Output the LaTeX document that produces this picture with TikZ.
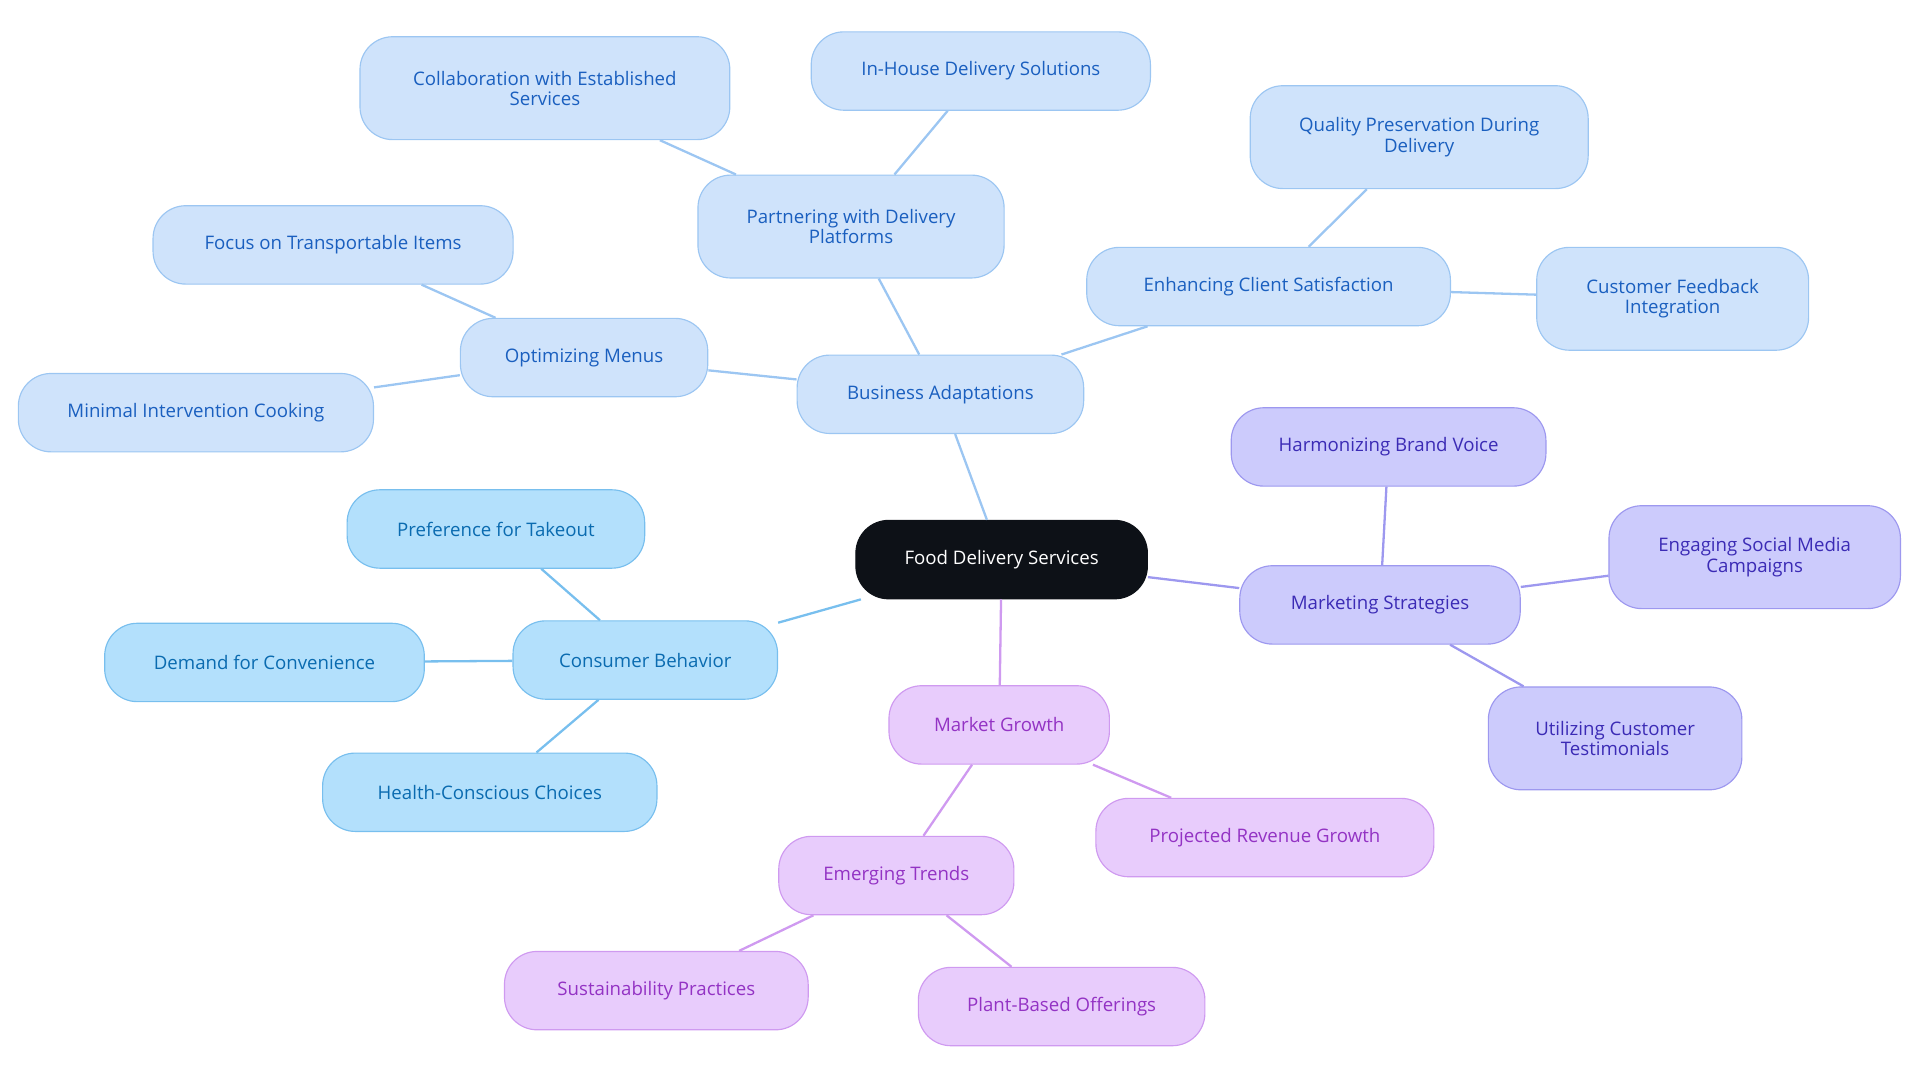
\documentclass[tikz,border=0pt]{standalone}
\usepackage{fontspec}
\setmainfont{Open Sans}
\usepackage{xcolor}
\usepackage{tikz}

\definecolor{rootfill}{HTML}{0D1117}
\definecolor{bafill}{HTML}{CFE3FB}\definecolor{badraw}{HTML}{9CC6F2}\definecolor{batext}{HTML}{1A5FBF}
\definecolor{cbfill}{HTML}{B3E0FC}\definecolor{cbdraw}{HTML}{78BFEE}\definecolor{cbtext}{HTML}{0A6BB0}
\definecolor{mgfill}{HTML}{E8CCFC}\definecolor{mgdraw}{HTML}{CF9AF0}\definecolor{mgtext}{HTML}{9333C4}
\definecolor{msfill}{HTML}{CCCBFC}\definecolor{msdraw}{HTML}{9D98EF}\definecolor{mstext}{HTML}{3B2BB5}

\begin{document}
\begin{tikzpicture}[x=0.03cm,y=-0.03cm]
\tikzstyle{topic}=[draw,rounded corners=0.8cm,minimum height=1.92cm,align=center,
  font=\fontsize{13}{14}\selectfont,line width=0.8pt,inner sep=2pt]
\tikzstyle{ba}=[topic,fill=bafill,draw=badraw,text=batext]
\tikzstyle{cb}=[topic,fill=cbfill,draw=cbdraw,text=cbtext]
\tikzstyle{mg}=[topic,fill=mgfill,draw=mgdraw,text=mgtext]
\tikzstyle{ms}=[topic,fill=msfill,draw=msdraw,text=mstext]
\tikzstyle{tall}=[minimum height=2.52cm]
\tikzstyle{link}=[line width=1.6pt]

\useasboundingbox (0,0) rectangle (1568,885);

\node[topic,fill=rootfill,draw=rootfill,text=white,minimum width=7.14cm] (root) at (818,457) {Food Delivery Services};

% Business adaptations
\node[ba,minimum width=7.02cm] (busad) at (768,322) {Business Adaptations};
\node[ba,minimum width=6.06cm] (optmenu) at (477,292) {Optimizing Menus};
\node[ba,minimum width=8.82cm] (transp) at (272,200) {Focus on Transportable Items};
\node[ba,minimum width=8.70cm] (mincook) at (160,337) {Minimal Intervention Cooking};
\node[ba,tall,minimum width=7.50cm] (partner) at (695,185) {Partnering with Delivery\\Platforms};
\node[ba,tall,minimum width=9.06cm] (collab) at (445,72) {Collaboration with Established\\Services};
\node[ba,minimum width=8.31cm] (inhouse) at (801,58) {In-House Delivery Solutions};
\node[ba,minimum width=8.91cm] (enhance) at (1036,234) {Enhancing Client Satisfaction};
\node[ba,tall,minimum width=8.28cm] (quality) at (1159,112) {Quality Preservation During\\Delivery};
\node[ba,tall,minimum width=6.66cm] (feedback) at (1366,244) {Customer Feedback\\Integration};

% Consumer behavior
\node[cb,minimum width=6.48cm] (consumer) at (527,539) {Consumer Behavior};
\node[cb,minimum width=7.29cm] (takeout) at (405,432) {Preference for Takeout};
\node[cb,minimum width=7.83cm] (conven) at (216,541) {Demand for Convenience};
\node[cb,minimum width=8.19cm] (health) at (400,647) {Health-Conscious Choices};

% Market growth
\node[mg,minimum width=5.40cm] (market) at (816,592) {Market Growth};
\node[mg,minimum width=5.76cm] (emerging) at (732,715) {Emerging Trends};
\node[mg,minimum width=7.44cm] (sustain) at (536,809) {Sustainability Practices};
\node[mg,minimum width=7.02cm] (plant) at (867,822) {Plant-Based Offerings};
\node[mg,minimum width=8.28cm] (revenue) at (1033,684) {Projected Revenue Growth};

% Marketing strategies
\node[ms,minimum width=6.87cm] (marketing) at (1127,494) {Marketing Strategies};
\node[ms,minimum width=7.71cm] (brand) at (1134,365) {Harmonizing Brand Voice};
\node[ms,tall,minimum width=7.14cm] (social) at (1433,455) {Engaging Social Media\\Campaigns};
\node[ms,tall,minimum width=6.21cm] (testim) at (1319,603) {Utilizing Customer\\Testimonials};

%% Connectors
\draw[link,badraw] (root) -- (busad);
\draw[link,badraw] (busad) -- (optmenu);
\draw[link,badraw] (optmenu) -- (transp);
\draw[link,badraw] (optmenu) -- (mincook);
\draw[link,badraw] (busad) -- (partner);
\draw[link,badraw] (partner) -- (collab);
\draw[link,badraw] (partner) -- (inhouse);
\draw[link,badraw] (busad) -- (enhance);
\draw[link,badraw] (enhance) -- (quality);
\draw[link,badraw] (enhance) -- (feedback);
\draw[link,cbdraw] (root) -- (consumer);
\draw[link,cbdraw] (consumer) -- (takeout);
\draw[link,cbdraw] (consumer) -- (conven);
\draw[link,cbdraw] (consumer) -- (health);
\draw[link,mgdraw] (root) -- (market);
\draw[link,mgdraw] (market) -- (emerging);
\draw[link,mgdraw] (emerging) -- (sustain);
\draw[link,mgdraw] (emerging) -- (plant);
\draw[link,mgdraw] (market) -- (revenue);
\draw[link,msdraw] (root) -- (marketing);
\draw[link,msdraw] (marketing) -- (brand);
\draw[link,msdraw] (marketing) -- (social);
\draw[link,msdraw] (marketing) -- (testim);
\end{tikzpicture}
\end{document}
